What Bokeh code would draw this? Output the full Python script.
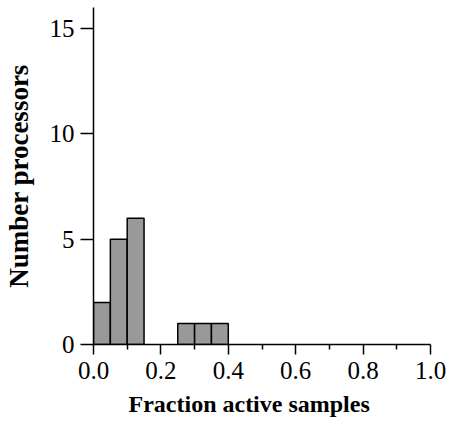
from bokeh.plotting import figure
from bokeh.models import Range1d, FixedTicker, ColumnDataSource, PrintfTickFormatter, Title
from bokeh.embed import file_html
from bokeh.resources import INLINE

bin_left = [0.00, 0.05, 0.10, 0.25, 0.30, 0.35]
bin_right = [0.05, 0.10, 0.15, 0.30, 0.35, 0.40]
counts = [2, 5, 6, 1, 1, 1]
x_ticks = [0.0, 0.2, 0.4, 0.6, 0.8, 1.0]
x_minor = [0.1, 0.3, 0.5, 0.7, 0.9]
y_ticks = [0, 5, 10, 15]
x_title = "Fraction active samples"
y_title = "Number processors"

src = ColumnDataSource(dict(left=bin_left, right=bin_right, top=counts, bottom=[0]*len(counts)))

p = figure(width=449, height=428, output_backend="svg", toolbar_location=None,
           x_range=Range1d(0, 1), y_range=Range1d(0, 16),
           min_border_left=93, min_border_right=19, min_border_top=7, min_border_bottom=84)
p.outline_line_color = None
p.grid.visible = False
p.background_fill_color = "white"
p.border_fill_color = "white"

p.quad(left="left", right="right", top="top", bottom="bottom", source=src,
       fill_color="#999999", line_color="black", line_width=1.5)

font = "Liberation Serif"
xa = p.xaxis[0]
xa.ticker = FixedTicker(ticks=x_ticks, minor_ticks=x_minor)
xa.formatter = PrintfTickFormatter(format="%.1f")
ya = p.yaxis[0]
ya.ticker = FixedTicker(ticks=y_ticks)
ya.axis_label = y_title
for ax in (xa, ya):
    ax.axis_line_width = 1.5
    ax.major_tick_line_width = 1.5
    ax.minor_tick_line_width = 1.5
    ax.major_tick_in = 0
    ax.minor_tick_in = 0
    ax.major_label_text_font = font
    ax.major_label_text_font_size = "25px"
    ax.major_label_text_color = "black"
    ax.axis_label_text_font = font
    ax.axis_label_text_font_style = "bold"
    ax.axis_label_text_color = "black"
ya.axis_label_text_font_size = "27px"
xa.major_tick_out = 10
xa.minor_tick_out = 5
ya.major_tick_out = 13
ya.minor_tick_out = 0
ya.major_label_standoff = 6
xa.major_label_standoff = 7
ya.axis_label_standoff = 13

p.add_layout(Title(text=x_title, align="left", offset=35, standoff=14,
                   text_font=font, text_font_style="bold", text_font_size="24px",
                   text_color="black"), "below")

open("out.html", "w").write(file_html(p, INLINE))
